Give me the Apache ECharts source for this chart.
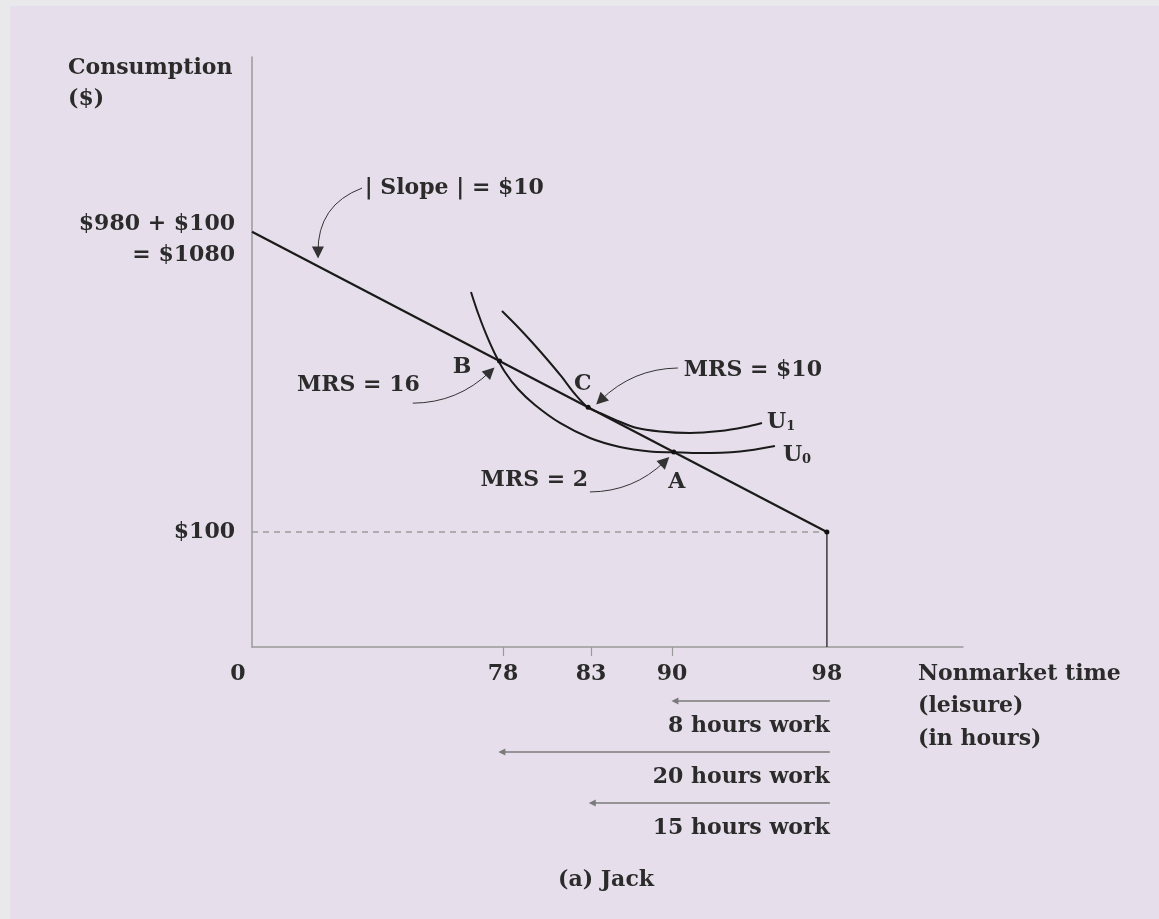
<!DOCTYPE html>
<html>
<head>
<meta charset="utf-8">
<script src="https://cdn.jsdelivr.net/npm/echarts@6/dist/echarts.min.js"></script>
<style>
  html, body { margin: 0; padding: 0; background: #e9e9eb; }
  #chart { width: 1159px; height: 919px; }
</style>
</head>
<body>
<div id="chart"></div>
<script>
// ---- Data (schematic positions) ----
// x: schematic leisure scale (0 at origin, 98 hours at 98), not linear between ticks
const leisureTickLabels = ['0', '78', '83', '90', '98'];
const leisureTickPos = [0, 42.8, 57.8, 71.6, 98];
// y: schematic consumption scale ($100 at 100, $1080 drawn at 361)
const consumptionTickLabels = ['$100', '$980 + $100\n= $1080'];
const consumptionTickPos = [100, 361];

const budgetLine = [[0, 361], [98, 100]];
const endowmentPoint = [98, 100];
const u0Curve = [[37.33, 308.7], [38.52, 290.4], [39.89, 272.2], [41.42, 254.8], [43.12, 239.1],
  [45.34, 224.3], [48.24, 210.4], [52.5, 194.8], [57.61, 181.7], [62.72, 173.9], [67.84, 170.0],
  [71.93, 169.3], [76.36, 168.6], [83.18, 170.0], [89.14, 174.8]];
const u1Curve = [[42.61, 292.2], [45.0, 280.0], [47.55, 266.1], [50.11, 251.3], [52.67, 235.7],
  [55.05, 220.0], [57.27, 208.3], [59.49, 203.0], [62.04, 197.3], [65.45, 190.6], [69.54, 187.4],
  [74.65, 186.1], [79.77, 187.8], [84.03, 191.3], [86.93, 194.8]];
const pointNames = ['B', 'C', 'A'];
const pointX = [42.2, 57.3, 71.9];
const pointY = [248.6, 208.4, 169.5];

// annotation arrows: [startX, startY, endX, endY, curveness]
const noteArrows = [
  [18.75, 399, 11.25, 343, -0.35],
  [27.4, 212, 40.6, 239.5, -0.2],
  [72.6, 242.6, 59.4, 214.5, -0.2],
  [57.6, 134.8, 70.4, 161.5, -0.2]
];
// annotation texts: [text, x, y, align]
const noteTexts = [
  ['| Slope | = $10', 19.2, 399, 'left'],
  ['MRS = 16', 28.6, 227.8, 'right'],
  ['MRS = $10', 73.6, 240.9, 'left'],
  ['MRS = 2', 57.3, 145.2, 'right'],
  ['B', 35.8, 243.5, 'center'],
  ['C', 56.4, 228.7, 'center'],
  ['A', 72.4, 143.5, 'center'],
  ['{u|U}{s|1}', 87.8, 195.7, 'left'],
  ['{u|U}{s|0}', 90.5, 167, 'left']
];

// work-hour arrows below the axis
const workLabels = ['8 hours work', '20 hours work', '15 hours work'];
const workFrom = [98.5, 98.5, 98.5];
const workTo = [72.1, 42.6, 58.0];

// ---- Chart ----
const FONT = "'DejaVu Serif', serif";
const TXT = '#2b2b2b';
const baseText = { fontFamily: FONT, fontWeight: 'bold', fontSize: 22 };

const chart = echarts.init(document.getElementById('chart'), null, { renderer: 'canvas' });

const option = {
  animation: false,
  backgroundColor: 'transparent',
  graphic: [
    { type: 'rect', z: -10, silent: true, shape: { x: 0, y: 0, width: 1159, height: 919 }, style: { fill: '#e9e9eb' } },
    { type: 'rect', z: -9, silent: true, shape: { x: 10, y: 6, width: 1149, height: 913 }, style: { fill: '#e6dfeb' } },
    { type: 'text', x: 68, y: 53, style: Object.assign({}, baseText, { text: 'Consumption\n($)', lineHeight: 31, fill: TXT }) },
    { type: 'text', x: 918, y: 658, style: Object.assign({}, baseText, { text: 'Nonmarket time\n(leisure)\n(in hours)', lineHeight: 32.5, fill: TXT }) },
    { type: 'text', x: 606, y: 880, style: Object.assign({}, baseText, { text: '(a) Jack', fill: TXT, align: 'center', verticalAlign: 'middle' }) }
  ],
  grid: [
    { left: 252, top: 57, width: 711, height: 590 },
    { left: 252, top: 650, width: 711, height: 204 }
  ],
  xAxis: [
    {
      type: 'value', gridIndex: 0, min: 0, max: 121.2,
      splitLine: { show: false },
      axisLine: { show: true, onZero: false, lineStyle: { color: '#9a9a9a', width: 1.5 } },
      axisTick: { show: true, customValues: leisureTickPos.slice(1, 4), length: 9, lineStyle: { color: '#9a9a9a', width: 1.2 } },
      axisLabel: {
        customValues: leisureTickPos, margin: 16,
        fontFamily: FONT, fontWeight: 'bold', fontSize: 22, color: TXT,
        formatter: function (v) {
          const i = leisureTickPos.indexOf(v);
          if (i === 0) return '{z|0}';
          return i >= 0 ? leisureTickLabels[i] : '';
        },
        rich: { z: { fontFamily: FONT, fontWeight: 'bold', fontSize: 22, color: TXT, padding: [0, 28, 0, 0] } }
      }
    },
    { type: 'value', gridIndex: 1, min: 0, max: 121.2, show: false }
  ],
  yAxis: [
    {
      type: 'value', gridIndex: 0, min: 0, max: 513,
      splitLine: { show: false },
      axisLine: { show: true, onZero: false, lineStyle: { color: '#9a9a9a', width: 1.5 } },
      axisTick: { show: false },
      axisLabel: {
        customValues: consumptionTickPos, margin: 17,
        fontFamily: FONT, fontWeight: 'bold', fontSize: 22, color: TXT, align: 'right',
        formatter: function (v) {
          const i = consumptionTickPos.indexOf(v);
          if (i < 0) return '';
          const parts = consumptionTickLabels[i].split('\n');
          if (parts.length === 1) return parts[0];
          return '{s| }\n' + parts.map(function (p) { return '{t|' + p + '}'; }).join('\n');
        },
        rich: {
          s: { fontSize: 10, lineHeight: 16, height: 16 },
          t: { fontFamily: FONT, fontWeight: 'bold', fontSize: 22, color: TXT, lineHeight: 31, align: 'right' }
        }
      }
    },
    { type: 'value', gridIndex: 1, min: 0, max: 4, inverse: true, show: false }
  ],
  series: [
    {
      name: 'dashed100', type: 'line', xAxisIndex: 0, yAxisIndex: 0, symbol: 'none',
      data: [[0, endowmentPoint[1]], endowmentPoint],
      lineStyle: { color: '#9c9c9c', width: 1.5, type: [6, 5] }, z: 2
    },
    {
      name: 'vertical98', type: 'line', symbol: 'none',
      data: [[endowmentPoint[0], 0], endowmentPoint],
      lineStyle: { color: '#3a3a3a', width: 1.5 }, z: 2
    },
    {
      name: 'budget', type: 'line', symbol: 'none', data: budgetLine,
      lineStyle: { color: '#1a1a1a', width: 2.2 }, z: 3
    },
    {
      name: 'U0', type: 'line', symbol: 'none', smooth: 0.3, data: u0Curve,
      lineStyle: { color: '#1a1a1a', width: 2 }, z: 3
    },
    {
      name: 'U1', type: 'line', symbol: 'none', smooth: 0.3, data: u1Curve,
      lineStyle: { color: '#1a1a1a', width: 2 }, z: 3
    },
    {
      name: 'points', type: 'scatter', symbolSize: 5,
      data: pointNames.map(function (n, i) { return [pointX[i], pointY[i]]; }).concat([endowmentPoint]),
      itemStyle: { color: '#111', opacity: 1 }, z: 5
    },
    {
      name: 'noteArrows', type: 'lines', coordinateSystem: 'cartesian2d', xAxisIndex: 0, yAxisIndex: 0,
      symbol: ['none', 'triangle'], symbolSize: 12,
      lineStyle: { color: '#333', width: 1, opacity: 1 },
      itemStyle: { color: '#1a1a1a' },
      data: noteArrows.map(function (a) {
        return { coords: [[a[0], a[1]], [a[2], a[3]]], lineStyle: { curveness: a[4] } };
      }),
      z: 4
    },
    {
      name: 'noteTexts', type: 'scatter', symbolSize: 0,
      itemStyle: { opacity: 1 },
      data: noteTexts.map(function (t) {
        return { value: [t[1], t[2]], name: t[0], label: { align: t[3] } };
      }),
      label: {
        show: true, position: 'inside', verticalAlign: 'middle',
        fontFamily: FONT, fontWeight: 'bold', fontSize: 22, color: TXT, opacity: 1,
        formatter: function (p) { return p.name; },
        rich: {
          u: { fontFamily: FONT, fontWeight: 'bold', fontSize: 22, color: TXT, lineHeight: 22 },
          s: { fontFamily: FONT, fontWeight: 'bold', fontSize: 13, color: TXT, lineHeight: 13, verticalAlign: 'bottom' }
        }
      },
      z: 6
    },
    {
      name: 'workArrows', type: 'lines', coordinateSystem: 'cartesian2d', xAxisIndex: 1, yAxisIndex: 1,
      symbol: ['none', 'triangle'], symbolSize: 7,
      lineStyle: { color: '#7a7a7a', width: 1.5, opacity: 1, curveness: 0 },
      data: workLabels.map(function (l, i) { return { coords: [[workFrom[i], i + 1], [workTo[i], i + 1]] }; })
    },
    {
      name: 'workTexts', type: 'scatter', xAxisIndex: 1, yAxisIndex: 1, symbolSize: 0,
      itemStyle: { opacity: 1 },
      data: workLabels.map(function (l, i) { return { value: [workFrom[i], i + 1], name: l }; }),
      label: {
        show: true, position: 'inside', align: 'right', verticalAlign: 'middle', offset: [0, 25],
        fontFamily: FONT, fontWeight: 'bold', fontSize: 22, color: TXT, opacity: 1,
        formatter: function (p) { return p.name; }
      }
    }
  ]
};
chart.setOption(option);
</script>
</body>
</html>
